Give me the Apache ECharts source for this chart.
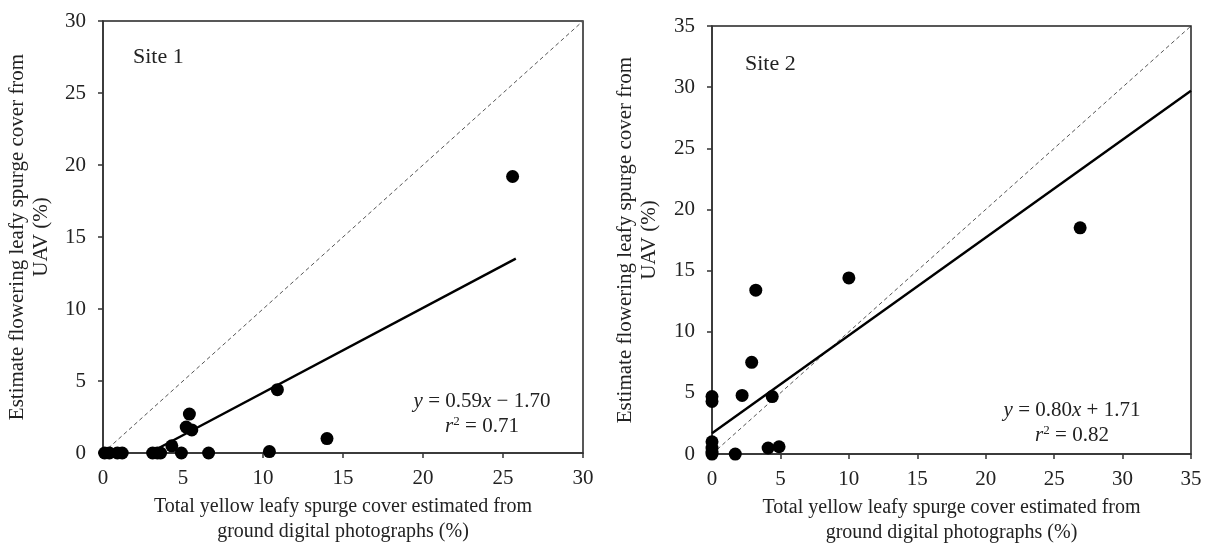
<!DOCTYPE html>
<html><head><meta charset="utf-8">
<script src="https://cdn.jsdelivr.net/npm/echarts@6/dist/echarts.min.js"></script>
<style>html,body{margin:0;padding:0;background:#fff}#c{width:1207px;height:550px}</style>
</head><body><div id="c"></div>
<script>
// Site 1 data
const site1X = [0.1, 0.4, 0.9, 1.2, 3.1, 3.4, 3.6, 4.3, 4.9, 5.2, 5.4, 5.55, 6.6, 10.4, 10.9, 14.0, 25.6];
const site1Y = [0, 0, 0, 0, 0, 0, 0, 0.5, 0, 1.8, 2.7, 1.6, 0, 0.1, 4.4, 1.0, 19.2];
const site1FitX = [2.9, 25.8];
const site1FitY = [0, 13.5];
const site1OneX = [0, 30];
const site1OneY = [0, 30];
// Site 2 data
const site2X = [0, 0, 0, 0, 0, 0, 1.7, 2.2, 2.9, 3.2, 4.1, 4.4, 4.9, 10.0, 26.9];
const site2Y = [0, 0.5, 1.0, 4.3, 4.7, 0.2, 0, 4.8, 7.5, 13.4, 0.5, 4.7, 0.6, 14.4, 18.5];
const site2FitX = [0, 35];
const site2FitY = [1.71, 29.71];
const site2OneX = [0, 35];
const site2OneY = [0, 35];
const xTitle = 'Total yellow leafy spurge cover estimated from\nground digital photographs (%)';
const yTitle = 'Estimate flowering leafy spurge cover from\nUAV (%)';

const FONT = 'Liberation Serif';
const TXT = '#222';
const zip = (a, b) => a.map((v, i) => [v, b[i]]);

function xAx(idx, max) {
  return {
    gridIndex: idx, type: 'value', min: 0, max: max, interval: 5,
    name: xTitle, nameLocation: 'middle', nameGap: 33,
    nameTextStyle: {fontFamily: FONT, fontSize: 20, color: TXT, lineHeight: 25},
    axisLine: {show: true, onZero: false, lineStyle: {color: '#333', width: 1.5}},
    axisTick: {show: true, inside: false, length: 5, lineStyle: {color: '#333', width: 1.5}},
    axisLabel: {fontFamily: FONT, fontSize: 21, color: TXT, margin: 15},
    splitLine: {show: false}
  };
}
function yAx(idx, max, gap) {
  return {
    gridIndex: idx, type: 'value', min: 0, max: max, interval: 5,
    name: yTitle, nameLocation: 'middle', nameGap: gap,
    nameTextStyle: {fontFamily: FONT, fontSize: 21, color: TXT, lineHeight: 24},
    axisLine: {show: true, onZero: false, lineStyle: {color: '#333', width: 1.5}},
    axisTick: {show: true, inside: false, length: 5, lineStyle: {color: '#333', width: 1.5}},
    axisLabel: {fontFamily: FONT, fontSize: 21, color: TXT, margin: 17},
    splitLine: {show: false}
  };
}
function scat(i, x, y) {
  return {type: 'scatter', xAxisIndex: i, yAxisIndex: i, data: zip(x, y), symbolSize: 13,
    itemStyle: {color: '#000', opacity: 1}, z: 5};
}
function ln(i, x, y, dashed) {
  return {type: 'line', xAxisIndex: i, yAxisIndex: i, data: zip(x, y), symbol: 'none',
    lineStyle: dashed ? {color: '#555', width: 1, type: [4, 3]} : {color: '#000', width: 2.4},
    z: dashed ? 2 : 3, silent: true};
}
const FS = 21;
const rich = {
  n: {fontFamily: FONT, fontSize: FS, color: TXT},
  i: {fontFamily: FONT, fontSize: FS, color: TXT, fontStyle: 'italic'},
  s: {fontFamily: FONT, fontSize: 13, color: TXT, verticalAlign: 'top', padding: [0, 0, 9, 0]}
};
function t(x, y, text, align) {
  return {type: 'text', x: x, y: y, style: {text: text, rich: rich, font: FS + 'px ' + FONT, fill: TXT,
    align: align, verticalAlign: 'middle'}};
}

const chart = echarts.init(document.getElementById('c'), null, {renderer: 'canvas'});
chart.setOption({
  animation: false,
  grid: [
    {left: 103, top: 21, right: 624, bottom: 97, show: true, borderColor: '#222', borderWidth: 1.5, backgroundColor: 'transparent'},
    {left: 712, top: 26, right: 16, bottom: 95, show: true, borderColor: '#222', borderWidth: 1.5, backgroundColor: 'transparent'}
  ],
  xAxis: [xAx(0, 30), xAx(1, 35)],
  yAxis: [yAx(0, 30, 50), yAx(1, 35, 51)],
  series: [
    ln(0, site1OneX, site1OneY, true), ln(0, site1FitX, site1FitY, false), scat(0, site1X, site1Y),
    ln(1, site2OneX, site2OneY, true), ln(1, site2FitX, site2FitY, false), scat(1, site2X, site2Y)
  ],
  graphic: [
    {type: 'text', x: 133, y: 57, style: {text: 'Site 1', font: '22px ' + FONT, fill: TXT, align: 'left', verticalAlign: 'middle'}},
    {type: 'text', x: 745, y: 64, style: {text: 'Site 2', font: '22px ' + FONT, fill: TXT, align: 'left', verticalAlign: 'middle'}},
    t(482, 401, '{i|y}{n| = 0.59}{i|x}{n| − 1.70}', 'center'),
    t(482, 426, '{i|r}{s|2}{n| = 0.71}', 'center'),
    t(1072, 410, '{i|y}{n| = 0.80}{i|x}{n| + 1.71}', 'center'),
    t(1072, 435, '{i|r}{s|2}{n| = 0.82}', 'center')
  ]
});
</script></body></html>
